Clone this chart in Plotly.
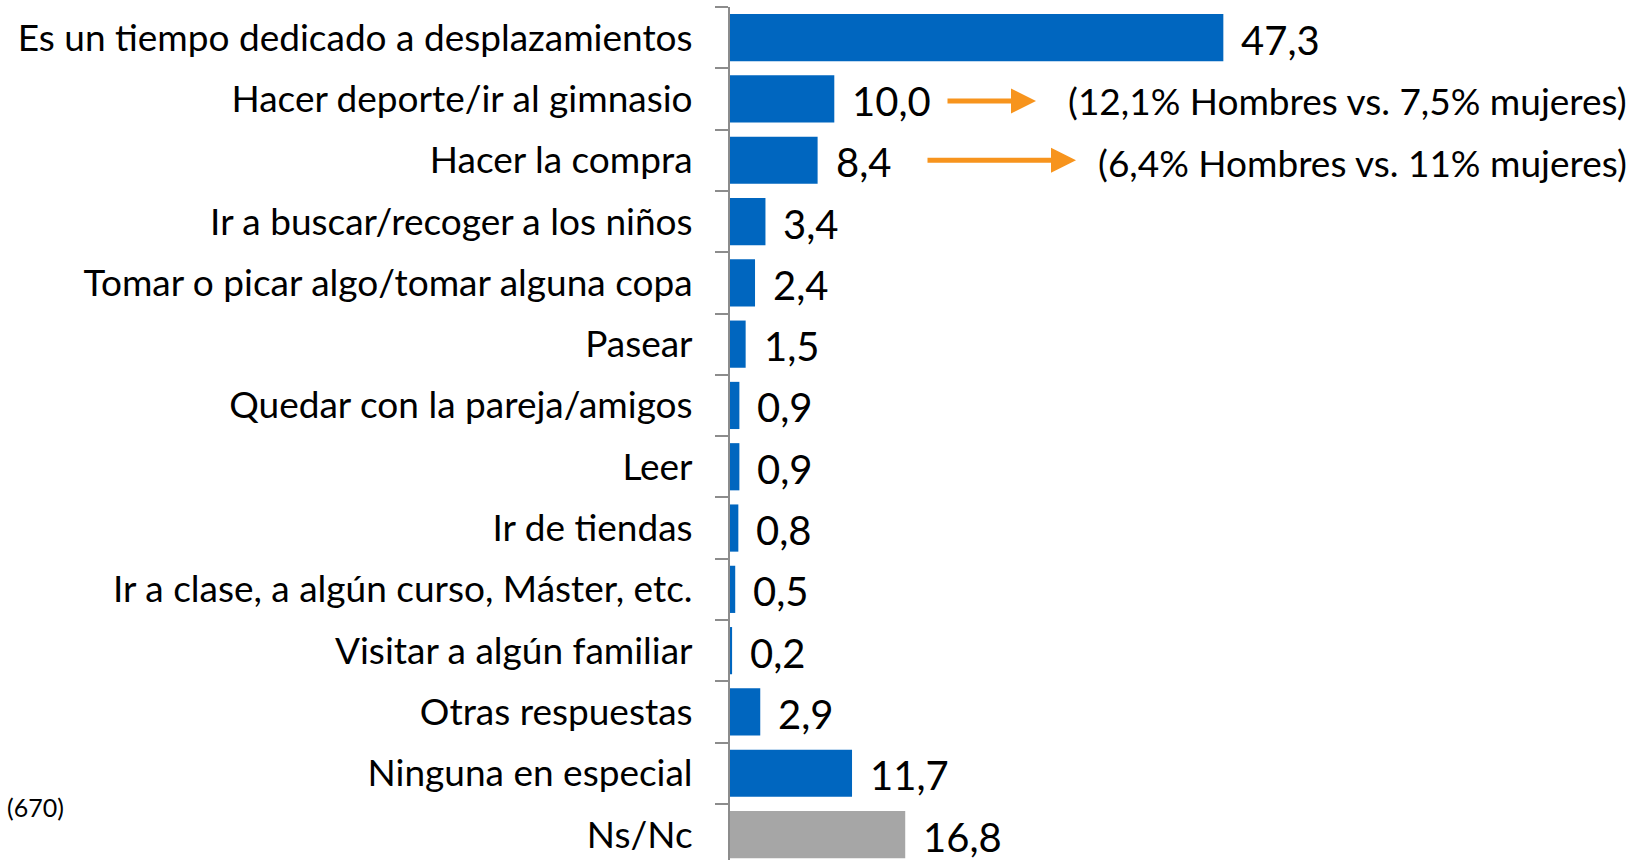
import plotly.graph_objects as go

categories = [
    "Es un tiempo dedicado a desplazamientos",
    "Hacer deporte/ir al gimnasio",
    "Hacer la compra",
    "Ir a buscar/recoger a los niños",
    "Tomar o picar algo/tomar alguna copa",
    "Pasear",
    "Quedar con la pareja/amigos",
    "Leer",
    "Ir de tiendas",
    "Ir a clase, a algún curso, Máster, etc.",
    "Visitar a algún familiar",
    "Otras respuestas",
    "Ninguna en especial",
    "Ns/Nc",
]
values = [47.3, 10.0, 8.4, 3.4, 2.4, 1.5, 0.9, 0.9, 0.8, 0.5, 0.2, 2.9, 11.7, 16.8]
bar_colors = ["#0066BF"] * 13 + ["#A6A6A6"]

gender_notes = {
    "Hacer deporte/ir al gimnasio": "(12,1% Hombres vs. 7,5% mujeres)",
    "Hacer la compra": "(6,4% Hombres vs. 11% mujeres)",
}
sample_note = "(670)"

W, H = 1637, 860
ML, MT = 730, 7
px_per_unit = 10.43
xmax = (W - ML) / px_per_unit
band_px = 61.3
n_bands = (H - MT) / band_px

FONT = "Lato"

fig = go.Figure(go.Bar(
    x=values, y=categories, orientation="h",
    marker=dict(color=bar_colors, line=dict(width=0)),
    width=0.77, hoverinfo="skip",
))

annotations = []
for c, v in zip(categories, values):
    annotations.append(dict(
        x=v, y=c, xref="x", yref="y", text=f"{v:.1f}".replace(".", ","),
        showarrow=False, xanchor="left", yanchor="middle", xshift=16, yshift=-2,
        font=dict(family=FONT, size=40, color="#000000"),
    ))

arrow_specs = {
    "Hacer deporte/ir al gimnasio": (946, 1036, -2),
    "Hacer la compra": (926, 1076, 0),
}
for c, note in gender_notes.items():
    v = values[categories.index(c)]
    tail, head, ys = arrow_specs[c]
    bar_end = ML + v * px_per_unit
    annotations.append(dict(
        x=v, y=c, xref="x", yref="y", text="", showarrow=True,
        axref="pixel", ayref="pixel", ax=-(head - tail), ay=0,
        xshift=head - bar_end, yshift=ys,
        arrowhead=2, arrowsize=1.0, arrowwidth=5, arrowcolor="#F7941D",
    ))
    annotations.append(dict(
        x=1, y=c, xref="paper", yref="y", text=note, showarrow=False,
        xanchor="right", yanchor="middle", xshift=-8, yshift=-2,
        font=dict(family=FONT, size=37, color="#000000"),
    ))

annotations.append(dict(
    x=(5 - ML) / (W - ML), y=(H - 807) / (H - MT), xref="paper", yref="paper",
    text=sample_note, showarrow=False, xanchor="left", yanchor="middle",
    font=dict(family=FONT, size=25, color="#000000"),
))

fig.update_layout(
    width=W, height=H,
    margin=dict(l=ML, r=0, t=MT, b=0, pad=0),
    paper_bgcolor="white", plot_bgcolor="white",
    showlegend=False,
    annotations=annotations,
    xaxis=dict(range=[0, xmax], visible=False, fixedrange=True),
    yaxis=dict(
        type="category",
        categoryorder="array", categoryarray=categories,
        range=[n_bands - 0.5, -0.5],
        showline=True, linecolor="#8C8C8C", linewidth=2,
        ticks="outside", ticklen=13, tickwidth=2, tickcolor="#8C8C8C",
        tickson="boundaries", ticklabelstandoff=28,
        tickfont=dict(family=FONT, size=37, color="#000000"),
        showgrid=False, zeroline=False, fixedrange=True,
    ),
)

fig.write_html(
    "out.html",
    config={"displayModeBar": False},
    post_script="document.body.style.margin='0';document.body.style.overflow='hidden';",
)
